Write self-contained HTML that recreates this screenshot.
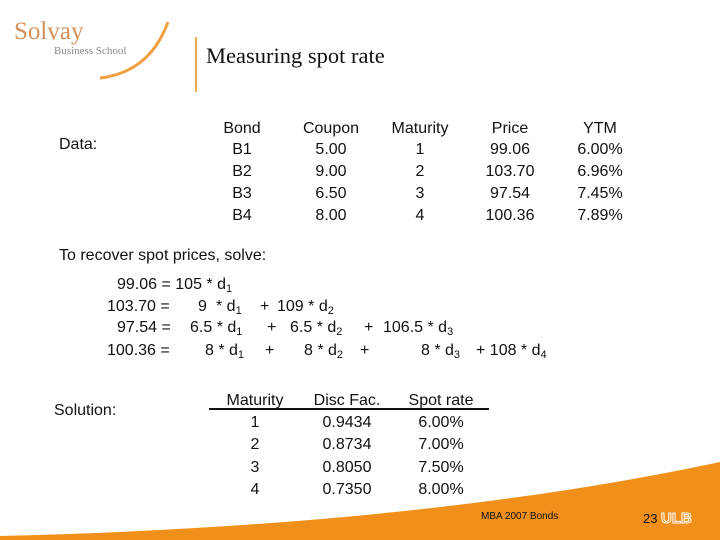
<!DOCTYPE html>
<html><head><meta charset="utf-8"><style>
body{margin:0;width:720px;height:540px;overflow:hidden;background:#fff;position:relative;font-family:"Liberation Sans",Arial,sans-serif;color:#111}
.t{position:absolute;font-size:16px;white-space:pre;line-height:18px}
.c{transform:translateX(-50%)}
sub{font-size:11px;vertical-align:-3px;line-height:0}
</style></head><body>
<svg width="720" height="540" style="position:absolute;left:0;top:0">
<path d="M0,536 Q420,526 720,462 L720,540 L0,540Z" fill="#f0901a"/>
<path d="M100,78 Q150,72 168,22" stroke="#f0a040" stroke-width="3" fill="none"/>
<line x1="196" y1="37" x2="196" y2="92" stroke="#e8a850" stroke-width="2"/>
</svg>
<div class="t" style="left:14px;top:18px;font-family:'Liberation Serif',serif;font-size:25px;line-height:28px;color:#d4905a">Solvay</div>
<div class="t" style="left:54px;top:42px;font-family:'Liberation Serif',serif;font-size:11px;color:#888">Business School</div>
<div class="t" style="left:206px;top:43px;font-family:'Liberation Serif',serif;font-size:22.5px;line-height:26px">Measuring spot rate</div>
<div class="t" style="left:59px;top:136px">Data:</div>
<div id="dt"></div>
<div class="t" style="left:59px;top:247px">To recover spot prices, solve:</div>
<div>
<div class="t" style="left:117px;top:276px">99.06 = 105 * d<sub>1</sub></div>
</div>
<div>
<div class="t" style="left:107px;top:298px">103.70 =</div>
<div class="t" style="left:198px;top:298px">9</div>
<div class="t" style="left:216px;top:298px">* d<sub>1</sub></div>
<div class="t" style="left:260px;top:298px">+</div>
<div class="t" style="left:277px;top:298px">109 * d<sub>2</sub></div>
</div>
<div>
<div class="t" style="left:117px;top:319px">97.54 =</div>
<div class="t" style="left:190px;top:319px">6.5 * d<sub>1</sub></div>
<div class="t" style="left:267px;top:319px">+</div>
<div class="t" style="left:290px;top:319px">6.5 * d<sub>2</sub></div>
<div class="t" style="left:364px;top:319px">+</div>
<div class="t" style="left:383px;top:319px">106.5 * d<sub>3</sub></div>
</div>
<div>
<div class="t" style="left:107px;top:342px">100.36 =</div>
<div class="t" style="left:205px;top:342px">8 * d<sub>1</sub></div>
<div class="t" style="left:265px;top:342px">+</div>
<div class="t" style="left:304px;top:342px">8 * d<sub>2</sub></div>
<div class="t" style="left:360px;top:342px">+</div>
<div class="t" style="left:421px;top:342px">8 * d<sub>3</sub></div>
<div class="t" style="left:476px;top:342px">+ 108 * d<sub>4</sub></div>
</div>
<div class="t" style="left:54px;top:402px">Solution:</div>
<div style="position:absolute;left:209px;top:408px;width:280px;height:2px;background:#111"></div>
<div id="st"></div>
<div class="t" style="left:481px;top:511px;font-size:10px;line-height:12px">MBA 2007 Bonds</div>
<div class="t" style="left:643px;top:512px;font-size:13px;line-height:14px">23</div>
<div class="t" style="left:661px;top:511px;font-size:15px;font-weight:bold;color:#f0901a;-webkit-text-stroke:1px #fff;line-height:16px">ULB</div>
<script>
const dataCols=["Bond","Coupon","Maturity","Price","YTM"];
const bonds=["B1","B2","B3","B4"];
const coupons=["5.00","9.00","6.50","8.00"];
const maturities=["1","2","3","4"];
const prices=["99.06","103.70","97.54","100.36"];
const ytms=["6.00%","6.96%","7.45%","7.89%"];
const solCols=["Maturity","Disc Fac.","Spot rate"];
const solMat=["1","2","3","4"];
const discFac=["0.9434","0.8734","0.8050","0.7350"];
const spotRates=["6.00%","7.00%","7.50%","8.00%"];
function put(parent,txt,x,y,name){
  const d=document.createElement('div');
  d.className='t c';d.textContent=txt;
  d.style.left=x+'px';d.style.top=y+'px';
  
  
  parent.appendChild(d);
}
const dt=document.getElementById('dt');
const dx=[242,331,420,510,600];
dataCols.forEach((c,i)=>put(dt,c,dx[i],120,'data-header-cell'));
const dcols=[bonds,coupons,maturities,prices,ytms];
dcols.forEach((col,i)=>col.forEach((v,r)=>put(dt,v,dx[i],141+r*22,'data-cell')));
const st=document.getElementById('st');
const sx=[255,347,441];
solCols.forEach((c,i)=>put(st,c,sx[i],392,'solution-header-cell'));
[solMat,discFac,spotRates].forEach((col,i)=>col.forEach((v,r)=>put(st,v,sx[i],414+r*22.3,'solution-cell')));
</script>
</body></html>
